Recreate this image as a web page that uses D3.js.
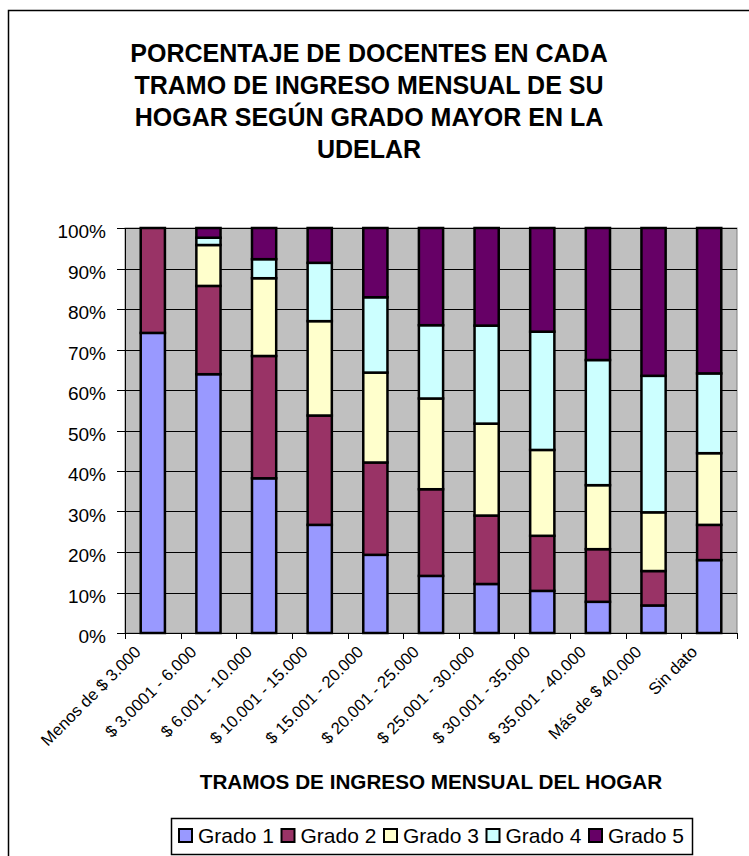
<!DOCTYPE html>
<html>
<head>
<meta charset="utf-8">
<script src="https://cdn.jsdelivr.net/npm/d3@7"></script>
<style>
  body { margin: 0; background: #fff; }
  svg { font-family: Arial, "Liberation Sans", sans-serif; }
</style>
</head>
<body>
<svg id="chart" width="749" height="856"></svg>
<script>
const categories = [
  "Menos de $ 3.000", "$ 3.0001 - 6.000", "$ 6.001 - 10.000", "$ 10.001 - 15.000",
  "$ 15.001 - 20.000", "$ 20.001 - 25.000", "$ 25.001 - 30.000", "$ 30.001 - 35.000",
  "$ 35.001 - 40.000", "Más de $ 40.000", "Sin dato"
];
const series = ["Grado 1", "Grado 2", "Grado 3", "Grado 4", "Grado 5"];
const grado1 = [74.1, 63.9, 38.2, 26.7, 19.3, 14.1, 12.1, 10.4, 7.7, 6.8, 18.0];
const grado2 = [25.9, 21.8, 30.2, 27.0, 22.8, 21.4, 16.9, 13.6, 13.0, 8.5, 8.7];
const grado3 = [0, 10.1, 19.2, 23.3, 22.2, 22.4, 22.7, 21.2, 15.8, 14.5, 17.7];
const grado4 = [0, 1.8, 4.7, 14.4, 18.6, 18.1, 24.2, 29.2, 30.9, 33.7, 19.7];
const grado5 = [0, 2.4, 7.7, 8.6, 17.1, 24.0, 24.1, 25.6, 32.6, 36.5, 35.9];
const colors = ["#9999FF", "#993366", "#FFFFCC", "#CCFFFF", "#660066"];
const titleLines = [
  "PORCENTAJE DE DOCENTES EN CADA",
  "TRAMO DE INGRESO MENSUAL DE SU",
  "HOGAR SEGÚN GRADO MAYOR EN LA",
  "UDELAR"
];

const rows = categories.map((c, i) => ({
  cat: c,
  "Grado 1": grado1[i], "Grado 2": grado2[i], "Grado 3": grado3[i],
  "Grado 4": grado4[i], "Grado 5": grado5[i]
}));

const svg = d3.select("#chart");
const plot = { left: 125, top: 228, right: 737, bottom: 633 };

// outer chart frame (runs past the window edge like the original)
svg.append("rect")
  .attr("x", 8.5).attr("y", 10.5)
  .attr("width", 800).attr("height", 900)
  .attr("fill", "#fff")
  .attr("stroke", "#000")
  .attr("stroke-width", 1.5);

const x = d3.scaleBand()
  .domain(categories)
  .range([plot.left, plot.right])
  .paddingInner(0.565)
  .paddingOuter(0.2825);

const xCat = d3.scaleBand()
  .domain(categories)
  .range([plot.left, plot.right]);

const y = d3.scaleLinear()
  .domain([0, 100])
  .range([plot.bottom, plot.top]);

// plot background
svg.append("rect")
  .attr("x", plot.left).attr("y", plot.top)
  .attr("width", plot.right - plot.left)
  .attr("height", plot.bottom - plot.top)
  .attr("fill", "#C0C0C0")
  .attr("stroke", "#808080")
  .attr("stroke-width", 1);

// gridlines
svg.append("g")
  .selectAll("line")
  .data(d3.range(10, 101, 10))
  .join("line")
  .attr("x1", plot.left).attr("x2", plot.right)
  .attr("y1", d => Math.round(y(d)) + 0.5)
  .attr("y2", d => Math.round(y(d)) + 0.5)
  .attr("stroke", "#000")
  .attr("stroke-width", 1);

// stacked bars
const stack = d3.stack().keys(series);
const layers = stack(rows);

svg.append("g")
  .selectAll("g")
  .data(layers)
  .join("g")
  .attr("fill", (d, i) => colors[i])
  .selectAll("rect")
  .data(d => d.filter(s => s[1] - s[0] > 0))
  .join("rect")
  .attr("x", d => x(d.data.cat))
  .attr("y", d => y(d[1]))
  .attr("width", x.bandwidth())
  .attr("height", d => y(d[0]) - y(d[1]))
  .attr("stroke", "#000")
  .attr("stroke-width", 2.5);

// y axis
const yAxis = svg.append("g");
yAxis.append("line")
  .attr("x1", plot.left + 0.5).attr("x2", plot.left + 0.5)
  .attr("y1", plot.top).attr("y2", plot.bottom)
  .attr("stroke", "#000");
yAxis.selectAll(".tick")
  .data(d3.range(0, 101, 10))
  .join("line")
  .attr("x1", plot.left - 8).attr("x2", plot.left)
  .attr("y1", d => Math.round(y(d)) + 0.5)
  .attr("y2", d => Math.round(y(d)) + 0.5)
  .attr("stroke", "#000");
yAxis.selectAll("text")
  .data(d3.range(0, 101, 10))
  .join("text")
  .attr("x", plot.left - 19)
  .attr("y", d => y(d) + 10)
  .attr("text-anchor", "end")
  .attr("font-size", 19)
  .text(d => d + "%");

// x axis
const xAxis = svg.append("g");
xAxis.append("line")
  .attr("x1", plot.left).attr("x2", plot.right)
  .attr("y1", plot.bottom + 0.5).attr("y2", plot.bottom + 0.5)
  .attr("stroke", "#000");
xAxis.selectAll(".tick")
  .data(categories.concat(["end"]))
  .join("line")
  .attr("x1", (d, i) => Math.round(plot.left + i * xCat.bandwidth()) + 0.5)
  .attr("x2", (d, i) => Math.round(plot.left + i * xCat.bandwidth()) + 0.5)
  .attr("y1", plot.bottom).attr("y2", plot.bottom + 6)
  .attr("stroke", "#000");
xAxis.selectAll("text")
  .data(categories)
  .join("text")
  .attr("transform", d => `translate(${xCat(d) + xCat.bandwidth() / 2 - 11},${plot.bottom + 20}) rotate(-45)`)
  .attr("text-anchor", "end")
  .attr("font-size", 16.6)
  .text(d => d);

// title
svg.append("text")
  .attr("text-anchor", "middle")
  .attr("font-size", 25)
  .attr("font-weight", "bold")
  .selectAll("tspan")
  .data(titleLines)
  .join("tspan")
  .attr("x", 369)
  .attr("y", (d, i) => 62 + i * 32)
  .text(d => d);

// x axis title
svg.append("text")
  .attr("x", (plot.left + plot.right) / 2)
  .attr("y", 789)
  .attr("text-anchor", "middle")
  .attr("font-size", 20.7)
  .attr("font-weight", "bold")
  .text("TRAMOS DE INGRESO MENSUAL DEL HOGAR");

// legend
const legend = svg.append("g");
legend.append("rect")
  .attr("x", 171.5).attr("y", 818.5)
  .attr("width", 521).attr("height", 36)
  .attr("fill", "#fff")
  .attr("stroke", "#000")
  .attr("stroke-width", 1.5);

const item = legend.selectAll(".item")
  .data(series)
  .join("g")
  .attr("transform", (d, i) => `translate(${179 + i * 102.5},0)`);
item.append("rect")
  .attr("x", 0).attr("y", 829)
  .attr("width", 13).attr("height", 13)
  .attr("fill", (d, i) => colors[i])
  .attr("stroke", "#000")
  .attr("stroke-width", 2);
item.append("text")
  .attr("x", 19).attr("y", 843)
  .attr("font-size", 21)
  .text(d => d);
</script>
</body>
</html>
